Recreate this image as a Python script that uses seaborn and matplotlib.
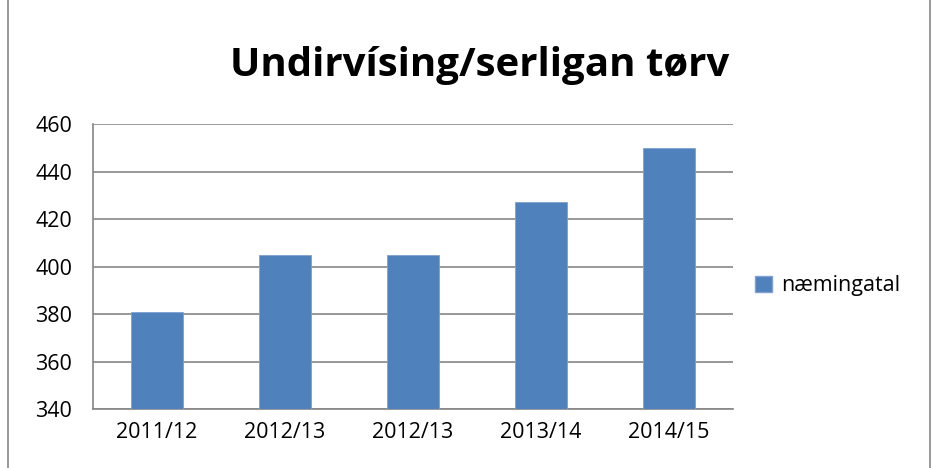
import pandas as pd
import matplotlib.pyplot as plt
import seaborn as sns
from matplotlib.lines import Line2D
from matplotlib.patches import Patch

sns.set_theme(style="white")
plt.rcParams['font.family'] = ['Open Sans', 'DejaVu Sans']
plt.rcParams['text.color'] = 'black'
plt.rcParams['xtick.labelcolor'] = 'black'
plt.rcParams['ytick.labelcolor'] = 'black'

# data
skulaar = ['2011/12', '2012/13', '2012/13', '2013/14', '2014/15']
naemingatal = [381, 405, 405, 427, 450]

df = pd.DataFrame({'pos': [str(i) for i in range(len(skulaar))], 'n': naemingatal})

fig = plt.figure(figsize=(9.37, 4.68), dpi=100)
ax = fig.add_axes([0.0993, 0.126, 0.683, 0.609])

sns.barplot(data=df, x='pos', y='n', ax=ax, color='#4F81BD', width=0.4,
            saturation=1, edgecolor='#7FA1D0', linewidth=0.6, zorder=3)

ax.set_ylim(340, 460)
ax.set_yticks(range(340, 461, 20))
ax.set_xlim(-0.5, len(skulaar) - 0.5)
ax.set_xticks(range(len(skulaar)))
ax.set_xticklabels(skulaar)
ax.set_xticks([i + 0.5 for i in range(-1, len(skulaar))], minor=True)
ax.tick_params(axis='x', which='major', length=0, labelsize=15.5, pad=9)
ax.tick_params(axis='x', which='minor', length=7, color='#868686', direction='out', width=1)
ax.tick_params(axis='y', length=8, color='#868686', direction='out', width=1, labelsize=15.5, pad=7)
ax.yaxis.grid(True, color='#868686', linewidth=1.2, zorder=0)
ax.set_axisbelow(True)
for s in ['top', 'right']:
    ax.spines[s].set_visible(False)
for s in ['left', 'bottom']:
    ax.spines[s].set_color('#868686')
    ax.spines[s].set_linewidth(1.2)
ax.set_xlabel('')
ax.set_ylabel('')

fig.text(0.512, 0.86, 'Undirvísing/serligan tørv', ha='center', va='center',
         fontsize=29, fontweight='bold', color='black')

ax.legend(handles=[Patch(facecolor='#4F81BD', edgecolor='#7FA1D0', label='næmingatal')],
          loc='center left', bbox_to_anchor=(0.785, 0.389), bbox_transform=fig.transFigure,
          frameon=False, fontsize=15.5, handlelength=0.8, handleheight=0.8, handletextpad=0.4,
          labelcolor='black')

# chart border
fig.add_artist(Line2D([0.0085, 0.0085], [0, 1], color='#868686', linewidth=1.2))
fig.add_artist(Line2D([0.992, 0.992], [0, 1], color='#868686', linewidth=1.2))

plt.savefig('out.png', dpi=100)
